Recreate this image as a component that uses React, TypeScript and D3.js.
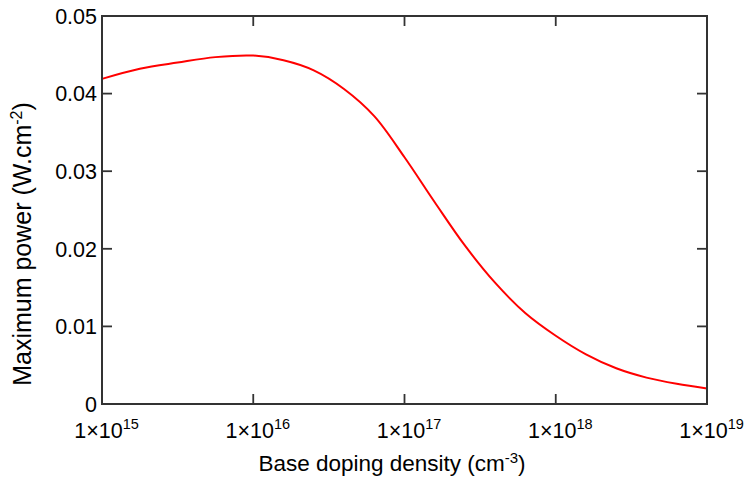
import React from "react";
import * as d3 from "d3";

const dopingExp: number[] = [15.0, 15.25, 15.5, 15.75, 16.0, 16.2, 16.4, 16.6, 16.8, 17.0, 17.2, 17.4, 17.6, 17.8, 18.0, 18.2, 18.4, 18.6, 18.8, 19.0];
const maxPower: number[] = [0.0419, 0.0432, 0.0440, 0.0447, 0.0449, 0.0443, 0.0430, 0.0406, 0.0371, 0.0318, 0.0260, 0.0204, 0.0156, 0.0117, 0.0088, 0.0064, 0.0046, 0.0034, 0.0026, 0.0020];
const xTickExps: number[] = [15, 16, 17, 18, 19];
const yTicks: number[] = [0, 0.01, 0.02, 0.03, 0.04, 0.05];
const yTickLabels: string[] = ["0", "0.01", "0.02", "0.03", "0.04", "0.05"];

const W = 744;
const H = 479;
const L = 102;
const R = 707;
const T = 16;
const B = 404;
const FONT = "'Liberation Sans', Arial, sans-serif";

export default function App() {
  const x = d3.scaleLog().domain([1e15, 1e19]).range([L, R]);
  const y = d3.scaleLinear().domain([0, 0.05]).range([B, T]);
  const pts: [number, number][] = dopingExp.map((e, i) => [Math.pow(10, e), maxPower[i]]);
  const line = d3
    .line<[number, number]>()
    .x((d) => x(d[0]))
    .y((d) => y(d[1]))
    .curve(d3.curveCatmullRom.alpha(0.5));
  const tickLen = 10;
  const axisColor = "#333";
  return (
    <svg width={W} height={H} style={{ position: "absolute", left: 0, top: 0, background: "#fff" }} fontFamily={FONT}>
      <rect x={0} y={0} width={W} height={H} fill="#fff" />
      {xTickExps.map((e) => {
        const px = x(Math.pow(10, e));
        return (
          <g key={"xt" + e}>
            <line x1={px} x2={px} y1={B} y2={B - tickLen} stroke={axisColor} strokeWidth={1.8} />
            <line x1={px} x2={px} y1={T} y2={T + tickLen} stroke={axisColor} strokeWidth={1.8} />
            <text x={px + 4.5} y={437.5} fontSize={21.5} textAnchor="middle" fill="#000">
              1×10<tspan dy={-8.5} fontSize={14.5}>{e}</tspan>
            </text>
          </g>
        );
      })}
      {yTicks.map((v, i) => {
        const py = y(v);
        return (
          <g key={"yt" + i}>
            <line x1={L} x2={L + tickLen} y1={py} y2={py} stroke={axisColor} strokeWidth={1.8} />
            <line x1={R} x2={R - tickLen} y1={py} y2={py} stroke={axisColor} strokeWidth={1.8} />
            <text x={97} y={py} dy="0.36em" fontSize={21.5} textAnchor="end" fill="#000">
              {yTickLabels[i]}
            </text>
          </g>
        );
      })}
      <path d={line(pts) || ""} fill="none" stroke="#ff0000" strokeWidth={2} />
      <rect x={L} y={T} width={R - L} height={B - T} fill="none" stroke={axisColor} strokeWidth={2} />
      <text x={392} y={471} fontSize={22.5} textAnchor="middle" fill="#000">
        Base doping density (cm<tspan dy={-8.5} fontSize={15}>-3</tspan><tspan dy={8.5}>)</tspan>
      </text>
      <text transform={`translate(31,244) rotate(-90)`} fontSize={25} textAnchor="middle" fill="#000">
        Maximum power (W.cm<tspan dy={-9} fontSize={16}>-2</tspan><tspan dy={9}>)</tspan>
      </text>
    </svg>
  );
}
